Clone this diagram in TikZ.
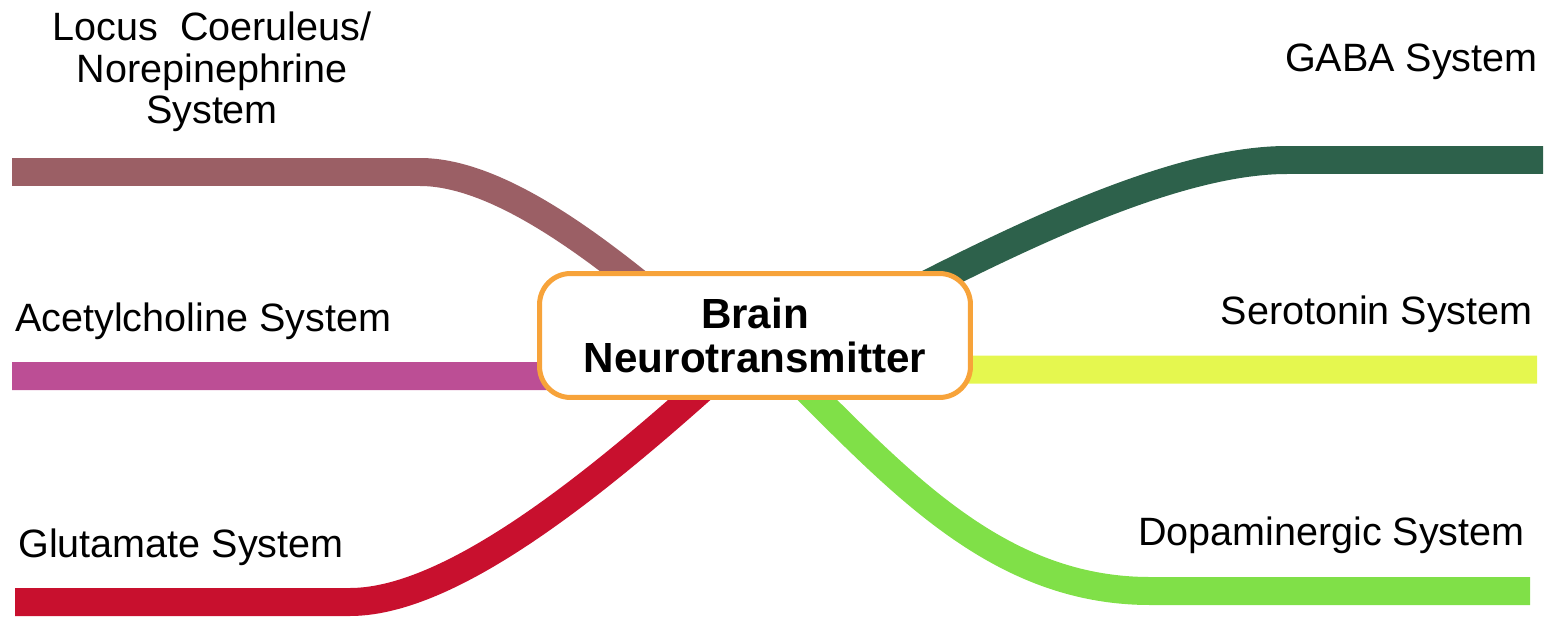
\documentclass[tikz,border=0pt]{standalone}
\usepackage{fontspec}
\setmainfont{Liberation Sans}
\definecolor{hubor}{HTML}{F7A33A}
\definecolor{lcbrown}{HTML}{9B5F65}
\definecolor{achpink}{HTML}{BC4E95}
\definecolor{glured}{HTML}{C8102E}
\definecolor{gabagreen}{HTML}{2D614B}
\definecolor{seroyellow}{HTML}{E5F74F}
\definecolor{dopagreen}{HTML}{80E048}
\usetikzlibrary{backgrounds}

\begin{document}
\begin{tikzpicture}[x=0.02cm,y=-0.02cm,
  hub/.style={draw=hubor,line width=0.1cm,rounded corners=0.62cm,fill=white,align=center,
    font=\fontsize{24}{25}\selectfont\bfseries,minimum width=8.62cm,minimum height=2.48cm,inner sep=0pt},
  lab/.style={font=\fontsize{22.5}{23.8}\selectfont,inner sep=0pt},
  branch/.style={line width=0.56cm}]
  \useasboundingbox (0,0) rectangle (1550,618);
  \node[hub] (hub) at (755,335.5) {Brain\\Neurotransmitter};
  \node[lab,align=center,anchor=base] (lc) at (212,124) {Locus\ \ Coeruleus/\\Norepinephrine\\System};
  \node[lab,anchor=base west] (ach) at (15,331) {Acetylcholine System};
  \node[lab,anchor=base west] (glu) at (18,557) {Glutamate System};
  \node[lab,anchor=base east] (gaba) at (1538,72) {GABA System};
  \node[lab,anchor=base east] (sero) at (1533,324) {Serotonin System};
  \node[lab,anchor=base east] (dopa) at (1525,545) {Dopaminergic System};
  \coordinate (lcend) at (12,172);
  \coordinate (achend) at (12,376);
  \coordinate (gluend) at (15,602);
  \coordinate (gabaend) at (1543,160);
  \coordinate (seroend) at (1537,369.5);
  \coordinate (dopaend) at (1530,591);
  \begin{scope}[on background layer]
    \draw[branch,lcbrown] (hub.center) -- (671,310) .. controls (600,251) and (500,172) .. (420,172) -- (lcend);
    \draw[branch,achpink] (hub.center) .. controls (680,376) and (640,376) .. (560,376) -- (achend);
    \draw[branch,glured] (hub.center) -- (734,360) .. controls (620,463) and (460,602) .. (350,602) -- (gluend);
    \draw[branch,gabagreen] (hub.center) -- (877,310) .. controls (1030,230) and (1180,160) .. (1287,160) -- (gabaend);
    \draw[branch,seroyellow] (hub.center) .. controls (830,369.5) and (860,369.5) .. (940,369.5) -- (seroend);
    \draw[branch,dopagreen] (hub.center) -- (777,360) .. controls (890,470) and (990,591) .. (1150,591) -- (dopaend);
  \end{scope}
\end{tikzpicture}
\end{document}
